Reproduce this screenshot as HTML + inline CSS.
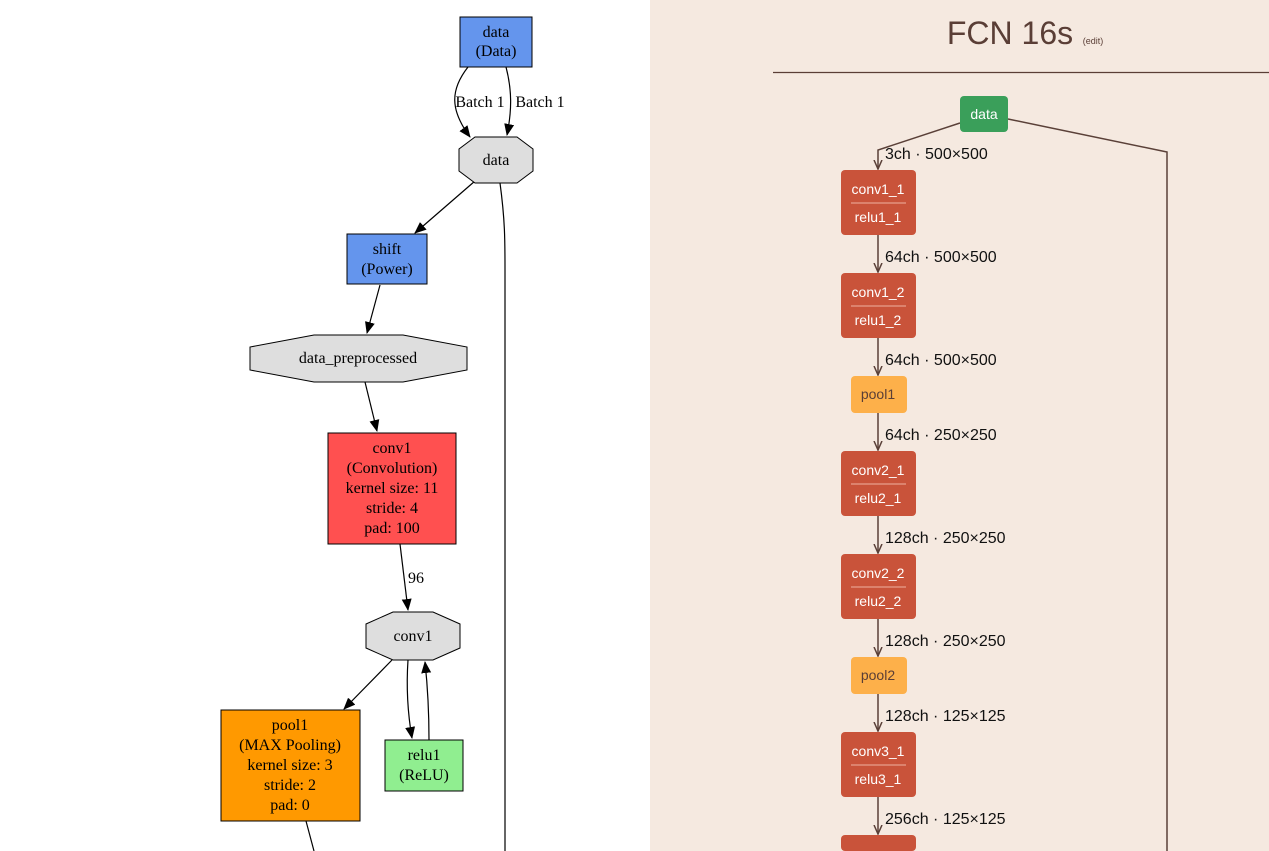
<!DOCTYPE html>
<html><head><style>
html,body{margin:0;padding:0;width:1269px;height:851px;overflow:hidden;background:#fff}
svg{display:block}
.s{font-family:"Liberation Serif",serif;font-size:16px;text-anchor:middle;fill:#000}
.a{font-family:"Liberation Sans",sans-serif;}
</style></head><body>
<svg width="1269" height="851" viewBox="0 0 1269 851" xmlns="http://www.w3.org/2000/svg">
<defs>
<marker id="ab" markerWidth="12" markerHeight="12" refX="11" refY="5" orient="auto" markerUnits="userSpaceOnUse"><path d="M0,0 L12,5 L0,10 z" fill="#000"/></marker>
<marker id="ar" markerWidth="10" markerHeight="10" refX="9" refY="5" orient="auto" markerUnits="userSpaceOnUse"><path d="M0,1 L9,5 L0,9" fill="none" stroke="#5a4038" stroke-width="1.5"/></marker>
</defs>
<rect x="0" y="0" width="650" height="851" fill="#fff"/>
<g stroke="#000" stroke-width="1.2" fill="none">
<path d="M468,67 C450,90 450,110 470,137" marker-end="url(#ab)"/>
<path d="M506,67 C512,90 512,110 507,135" marker-end="url(#ab)"/>
<path d="M500,183 C505,220 505,240 505,270 L505,851"/>
<path d="M475,181 L415,233" marker-end="url(#ab)"/>
<path d="M380,285 L367,333" marker-end="url(#ab)"/>
<path d="M365,382 L377,431" marker-end="url(#ab)"/>
<path d="M400,544 L408,610" marker-end="url(#ab)"/>
<path d="M392,660 L344,709" marker-end="url(#ab)"/>
<path d="M408,660 C406,690 408,715 412,738" marker-end="url(#ab)"/>
<path d="M429,740 C429,715 428,690 425,662" marker-end="url(#ab)"/>
<path d="M306,821 L314,851"/>
</g>
<text class="s" x="480" y="107">Batch 1</text>
<text class="s" x="540" y="107">Batch 1</text>
<text class="s" x="416" y="583">96</text>
<rect x="460" y="17" width="72" height="50" fill="#6495ED" stroke="#000"/>
<text class="s" x="496" y="37">data</text><text class="s" x="496" y="56">(Data)</text>
<polygon points="475,137 517,137 533,149 533,171 517,183 475,183 459,171 459,149" fill="#dedede" stroke="#000"/>
<text class="s" x="496" y="165">data</text>
<rect x="347" y="234" width="80" height="50" fill="#6495ED" stroke="#000"/>
<text class="s" x="387" y="254">shift</text><text class="s" x="387" y="274">(Power)</text>
<polygon points="314,335 403,335 467,347 467,370 403,382 314,382 250,370 250,347" fill="#dedede" stroke="#000"/>
<text class="s" x="358" y="363">data_preprocessed</text>
<rect x="328" y="433" width="128" height="111" fill="#ff5050" stroke="#000"/>
<text class="s" x="392" y="453">conv1</text><text class="s" x="392" y="473">(Convolution)</text><text class="s" x="392" y="493">kernel size: 11</text><text class="s" x="392" y="513">stride: 4</text><text class="s" x="392" y="533">pad: 100</text>
<polygon points="393,612 433,612 460,624 460,648 433,660 393,660 366,648 366,624" fill="#dedede" stroke="#000"/>
<text class="s" x="413" y="641">conv1</text>
<rect x="221" y="710" width="139" height="111" fill="#ff9900" stroke="#000"/>
<text class="s" x="290" y="730">pool1</text><text class="s" x="290" y="750">(MAX Pooling)</text><text class="s" x="290" y="770">kernel size: 3</text><text class="s" x="290" y="790">stride: 2</text><text class="s" x="290" y="810">pad: 0</text>
<rect x="385" y="740" width="78" height="51" fill="#90ee90" stroke="#000"/>
<text class="s" x="424" y="760">relu1</text><text class="s" x="424" y="780">(ReLU)</text>
<rect x="650" y="0" width="619" height="851" fill="#f5e9e0"/>
<text class="a" x="1010" y="44" font-size="32" fill="#5a3e36" text-anchor="middle">FCN 16s</text>
<text class="a" x="1093" y="44" font-size="9" fill="#5a3e36" text-anchor="middle">(edit)</text>
<line x1="773" y1="72.5" x2="1269" y2="72.5" stroke="#5a3e36" stroke-width="1.2"/>
<g stroke="#5a4038" stroke-width="1.5" fill="none">
<path d="M960,123 L878,150 L878,169" marker-end="url(#ar)"/>
<path d="M1008,119 L1167,152 L1167,851"/>
<path d="M878,235 L878,272" marker-end="url(#ar)"/>
<path d="M878,338 L878,375" marker-end="url(#ar)"/>
<path d="M878,413 L878,450" marker-end="url(#ar)"/>
<path d="M878,516 L878,553" marker-end="url(#ar)"/>
<path d="M878,619 L878,656" marker-end="url(#ar)"/>
<path d="M878,694 L878,731" marker-end="url(#ar)"/>
<path d="M878,797 L878,834" marker-end="url(#ar)"/>
</g>
<rect x="960" y="96" width="48" height="36" rx="4" fill="#3a9f5a"/>
<text class="a" x="984" y="119" font-size="14" fill="#fff" text-anchor="middle">data</text>
<g class="a" font-size="16" fill="#111">
<text x="885" y="159">3ch · 500×500</text>
<text x="885" y="262">64ch · 500×500</text>
<text x="885" y="365">64ch · 500×500</text>
<text x="885" y="440">64ch · 250×250</text>
<text x="885" y="543">128ch · 250×250</text>
<text x="885" y="646">128ch · 250×250</text>
<text x="885" y="721">128ch · 125×125</text>
<text x="885" y="824">256ch · 125×125</text>
</g>
<g class="a" font-size="14" text-anchor="middle">
<rect x="841" y="170" width="75" height="65" rx="4" fill="#c9533a"/>
<text x="878" y="194" fill="#fff">conv1_1</text><line x1="851" y1="203" x2="906" y2="203" stroke="#f0b0a0"/><text x="878" y="222" fill="#fff">relu1_1</text>
<rect x="841" y="273" width="75" height="65" rx="4" fill="#c9533a"/>
<text x="878" y="297" fill="#fff">conv1_2</text><line x1="851" y1="306" x2="906" y2="306" stroke="#f0b0a0"/><text x="878" y="325" fill="#fff">relu1_2</text>
<rect x="851" y="376" width="56" height="37" rx="4" fill="#fdb04a"/>
<text x="878" y="399" fill="#5a3e36">pool1</text>
<rect x="841" y="451" width="75" height="65" rx="4" fill="#c9533a"/>
<text x="878" y="475" fill="#fff">conv2_1</text><line x1="851" y1="484" x2="906" y2="484" stroke="#f0b0a0"/><text x="878" y="503" fill="#fff">relu2_1</text>
<rect x="841" y="554" width="75" height="65" rx="4" fill="#c9533a"/>
<text x="878" y="578" fill="#fff">conv2_2</text><line x1="851" y1="587" x2="906" y2="587" stroke="#f0b0a0"/><text x="878" y="606" fill="#fff">relu2_2</text>
<rect x="851" y="657" width="56" height="37" rx="4" fill="#fdb04a"/>
<text x="878" y="680" fill="#5a3e36">pool2</text>
<rect x="841" y="732" width="75" height="65" rx="4" fill="#c9533a"/>
<text x="878" y="756" fill="#fff">conv3_1</text><line x1="851" y1="765" x2="906" y2="765" stroke="#f0b0a0"/><text x="878" y="784" fill="#fff">relu3_1</text>
<rect x="841" y="835" width="75" height="16" rx="4" fill="#c9533a"/>
</g>
</svg>
</body></html>
